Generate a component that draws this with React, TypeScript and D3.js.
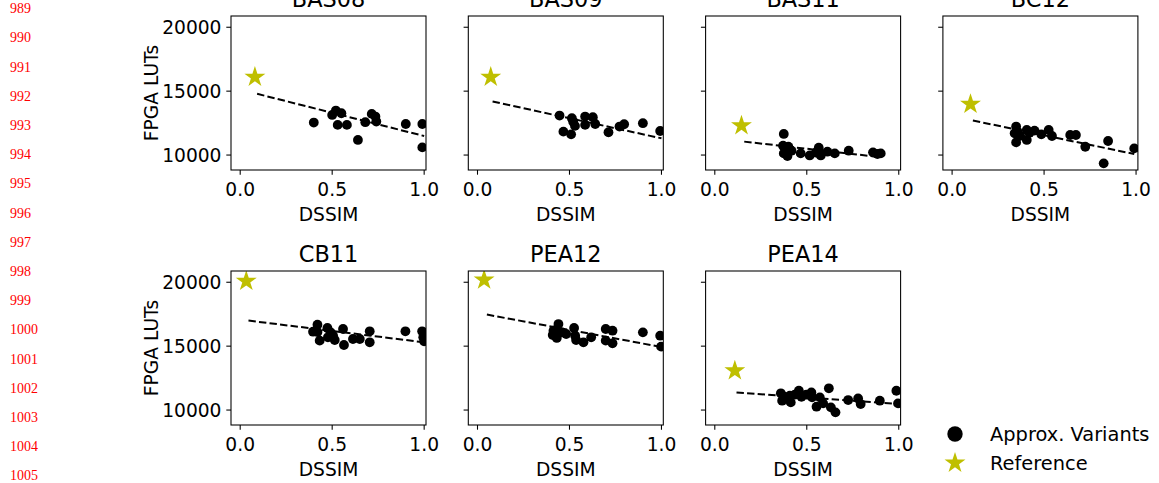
import React from "react";
import * as d3 from "d3";

type Pt = [number, number];

// ---------- data (DSSIM, FPGA LUTs) ----------
const panelNames = ["BAS08", "BAS09", "BAS11", "BC12", "CB11", "PEA12", "PEA14"];

const refBAS08: Pt = [0.08, 16100];
const refBAS09: Pt = [0.072, 16100];
const refBAS11: Pt = [0.145, 12300];
const refBC12: Pt = [0.1, 13980];
const refCB11: Pt = [0.033, 20080];
const refPEA12: Pt = [0.036, 20180];
const refPEA14: Pt = [0.109, 13080];

const varBAS08: Pt[] = [
  [0.4, 12540], [0.5, 13140], [0.52, 13480], [0.55, 13270], [0.53, 12360],
  [0.58, 12360], [0.64, 11180], [0.68, 12570], [0.715, 13220], [0.735, 13010],
  [0.74, 12620], [0.9, 12430], [0.99, 12430], [0.99, 10600],
];
const varBAS09: Pt[] = [
  [0.446, 13090], [0.467, 11830], [0.513, 12880], [0.509, 11620], [0.53, 12280],
  [0.52, 12600], [0.585, 13010], [0.585, 12360], [0.627, 12960], [0.64, 12430],
  [0.712, 11780], [0.772, 12230], [0.797, 12410], [0.899, 12490], [0.993, 11880],
];
const varBAS11: Pt[] = [
  [0.375, 11650], [0.371, 10730], [0.4, 10650], [0.375, 10130], [0.395, 9920],
  [0.417, 10340], [0.467, 10130], [0.516, 9970], [0.565, 10570], [0.576, 9970],
  [0.612, 10260], [0.652, 10130], [0.728, 10340], [0.86, 10210], [0.884, 10080],
  [0.902, 10130], [0.39, 10500], [0.55, 10200],
];
const varBC12: Pt[] = [
  [0.348, 12230], [0.356, 11830], [0.348, 10990], [0.406, 11960], [0.406, 11180],
  [0.421, 11750], [0.448, 11910], [0.485, 11620], [0.525, 11960], [0.543, 11490],
  [0.642, 11570], [0.673, 11570], [0.724, 10650], [0.848, 11100], [0.824, 9350],
  [0.99, 10520], [0.34, 11700], [0.37, 11500],
];
const varCB11: Pt[] = [
  [0.42, 16680], [0.396, 16130], [0.432, 15430], [0.474, 16420], [0.492, 16080],
  [0.505, 15820], [0.514, 15480], [0.477, 15690], [0.559, 16340], [0.564, 15090],
  [0.613, 15560], [0.65, 15560], [0.704, 16160], [0.704, 15300], [0.898, 16160],
  [0.989, 16160], [0.995, 15690], [1.0, 15380], [0.42, 16100],
];
const varPEA12: Pt[] = [
  [0.44, 16730], [0.413, 16210], [0.409, 15870], [0.431, 15640], [0.458, 16080],
  [0.482, 15950], [0.525, 16420], [0.531, 15820], [0.536, 15480], [0.576, 15300],
  [0.618, 15690], [0.697, 16340], [0.734, 16210], [0.697, 15430], [0.734, 15220],
  [0.899, 16080], [0.993, 15820], [0.998, 14960], [0.43, 16300],
];
const varPEA14: Pt[] = [
  [0.359, 11310], [0.366, 10730], [0.377, 11040], [0.408, 11120], [0.413, 10600],
  [0.435, 11200], [0.457, 11520], [0.471, 11040], [0.498, 11200], [0.525, 11380],
  [0.529, 10990], [0.553, 10260], [0.571, 10990], [0.589, 10520], [0.62, 11700],
  [0.631, 10210], [0.656, 9820], [0.725, 10780], [0.779, 10910], [0.793, 10470],
  [0.897, 10730], [0.987, 11510], [0.996, 10520],
];

// dashed trend line end points [x0, y0, x1, y1]
const trendBAS08 = [0.092, 14790, 1.0, 11490];
const trendBAS09 = [0.082, 14190, 1.0, 11310];
const trendBAS11 = [0.16, 11050, 0.879, 9870];
const trendBC12 = [0.113, 12700, 0.99, 10080];
const trendCB11 = [0.045, 17000, 1.0, 15300];
const trendPEA12 = [0.051, 17470, 0.99, 14960];
const trendPEA14 = [0.118, 11380, 0.996, 10470];

const refs = [refBAS08, refBAS09, refBAS11, refBC12, refCB11, refPEA12, refPEA14];
const variants = [varBAS08, varBAS09, varBAS11, varBC12, varCB11, varPEA12, varPEA14];
const trends = [trendBAS08, trendBAS09, trendBAS11, trendBC12, trendCB11, trendPEA12, trendPEA14];

const xTicks = [0.0, 0.5, 1.0];
const yTicks = [10000, 15000, 20000];
const lineNumbers = [989, 990, 991, 992, 993, 994, 995, 996, 997, 998, 999, 1000, 1001, 1002, 1003, 1004, 1005];
const legendLabels = ["Approx. Variants", "Reference"];

// ---------- layout ----------
const W = 1159;
const H = 483;
const panelW = 195;
const panelH = 154;
const colLeft = [231, 468.3, 705.6, 942.9];
const rowTop = [16, 271];
const FONT = "DejaVu Sans, sans-serif";
const STAR = "#bfbf00";

const x = d3.scaleLinear().domain([-0.05, 1.01]).range([0, panelW]);
const y = d3.scaleLinear().domain([8830, 20880]).range([panelH, 0]);
const starPath = (r: number) => d3.symbol().type(d3.symbolStar).size((r * r) / 0.8908130915292852)() as string;
const fmtX = d3.format(".1f");

function Panel({ idx }: { idx: number }) {
  const col = idx % 4;
  const row = Math.floor(idx / 4);
  const left = colLeft[col];
  const top = rowTop[row];
  const t = trends[idx];
  const ref = refs[idx];
  return (
    <g transform={`translate(${left},${top})`}>
      <text x={panelW / 2} y={-9} textAnchor="middle" fontSize={22.4} fontFamily={FONT}>
        {panelNames[idx]}
      </text>
      {/* y ticks */}
      {yTicks.map((v) => (
        <g key={v} transform={`translate(0,${y(v)})`}>
          <line x1={-4.7} x2={0} stroke="#000" strokeWidth={1.07} />
          {col === 0 && (
            <text x={-9.5} dy="0.35em" textAnchor="end" fontSize={18.67} fontFamily={FONT}>
              {v}
            </text>
          )}
        </g>
      ))}
      {/* x ticks */}
      {xTicks.map((v) => (
        <g key={v} transform={`translate(${x(v)},${panelH})`}>
          <line y1={0} y2={4.7} stroke="#000" strokeWidth={1.07} />
          <text y={26} textAnchor="middle" fontSize={18.67} fontFamily={FONT}>
            {fmtX(v)}
          </text>
        </g>
      ))}
      <text x={panelW / 2} y={panelH + 51} textAnchor="middle" fontSize={18.67} fontFamily={FONT}>
        DSSIM
      </text>
      {col === 0 && (
        <text
          transform={`translate(-80,${panelH / 2}) rotate(-90)`}
          textAnchor="middle"
          dy="0.35em"
          fontSize={18.67}
          fontFamily={FONT}
        >
          FPGA LUTs
        </text>
      )}
      <g clipPath={`url(#clip${idx})`}>
        {variants[idx].map((p, i) => (
          <circle key={i} cx={x(p[0])} cy={y(p[1])} r={4.9} fill="#000" />
        ))}
        <line
          x1={x(t[0])}
          y1={y(t[1])}
          x2={x(t[2])}
          y2={y(t[3])}
          stroke="#000"
          strokeWidth={2}
          strokeDasharray="7.4 3.2"
        />
        <path d={starPath(11)} transform={`translate(${x(ref[0])},${y(ref[1])})`} fill={STAR} />
      </g>
      <rect x={0} y={0} width={panelW} height={panelH} fill="none" stroke="#000" strokeWidth={1.07} />
      <clipPath id={`clip${idx}`}>
        <rect x={0} y={0} width={panelW} height={panelH} />
      </clipPath>
    </g>
  );
}

export default function App() {
  return (
    <svg
      width={W}
      height={H}
      style={{ position: "absolute", left: 0, top: 0, background: "#fff" }}
    >
      <rect width={W} height={H} fill="#fff" />
      {lineNumbers.map((n, i) => (
        <text
          key={n}
          x={10}
          y={8.3 + i * 29.2}
          dy="0.35em"
          fontSize={14}
          fill="#ff0000"
          fontFamily="Liberation Serif, Times New Roman, serif"
        >
          {n}
        </text>
      ))}
      {panelNames.map((_, i) => (
        <Panel key={i} idx={i} />
      ))}
      {/* legend */}
      <g fontFamily={FONT} fontSize={19.4}>
        <circle cx={955} cy={434} r={7.7} fill="#000" />
        <text x={990} y={434} dy="0.35em">{legendLabels[0]}</text>
        <path d={starPath(11)} transform="translate(955,463)" fill={STAR} />
        <text x={990} y={463} dy="0.35em">{legendLabels[1]}</text>
      </g>
    </svg>
  );
}
